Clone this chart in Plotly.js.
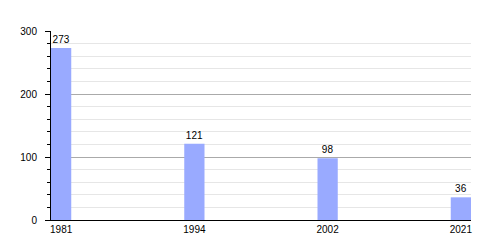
<!DOCTYPE html>
<html>
<head>
<meta charset="utf-8">
<script src="https://cdn.plot.ly/plotly-3.0.1.min.js"></script>
<style>html,body{margin:0;padding:0;background:#fff;}#chart{width:500px;height:250px;}</style>
</head>
<body>
<div id="chart"></div>
<script>
const years = ['1981', '1994', '2002', '2021'];
const values = [273, 121, 98, 36];
const yTickVals = [0, 100, 200, 300];

const trace = {
  type: 'bar',
  x: years,
  y: values,
  width: 0.152,
  marker: {color: '#99aaff'},
  text: values.map(String),
  textposition: 'outside',
  cliponaxis: false,
  textfont: {family: 'Liberation Sans, Arial, sans-serif', size: 10, color: '#000'},
  hoverinfo: 'none'
};

const layout = {
  width: 500,
  height: 250,
  margin: {l: 51, r: 29, t: 31, b: 30},
  paper_bgcolor: '#fff',
  plot_bgcolor: '#fff',
  showlegend: false,
  font: {family: 'Liberation Sans, Arial, sans-serif', size: 10, color: '#000'},
  xaxis: {
    type: 'category',
    range: [-0.076, 3.076],
    showline: true,
    linecolor: '#000',
    linewidth: 1,
    ticks: '',
    showgrid: false,
    zeroline: false,
    tickfont: {size: 10}
  },
  yaxis: {
    range: [0, 300],
    tickvals: yTickVals,
    ticktext: yTickVals.map(String),
    showline: true,
    linecolor: '#000',
    linewidth: 1,
    ticks: 'outside',
    ticklen: 5,
    tickcolor: '#000',
    showgrid: true,
    gridcolor: '#aaaaaa',
    zeroline: false,
    ticklabelstandoff: 6,
    tickfont: {size: 10},
    minor: {
      dtick: 20,
      tick0: 0,
      ticks: 'outside',
      ticklen: 3,
      tickcolor: '#000',
      showgrid: true,
      gridcolor: '#e6e6e6'
    }
  }
};

Plotly.newPlot('chart', [trace], layout, {staticPlot: true, displayModeBar: false});
</script>
</body>
</html>
